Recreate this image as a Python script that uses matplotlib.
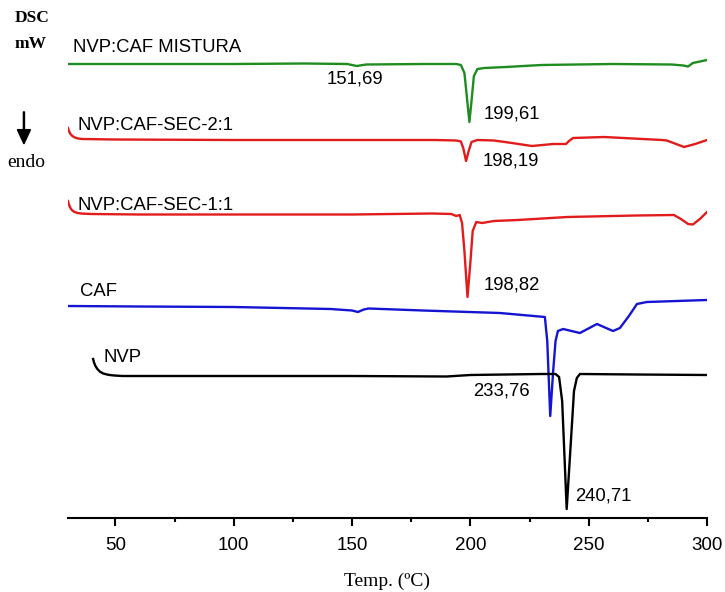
import matplotlib.pyplot as plt
from matplotlib.ticker import MultipleLocator

# DSC curves, temperature (C) vs heat flow (a.u., offset per sample)
mix_t = [30, 60, 100, 130, 148, 152, 156, 180, 194, 196, 197.5, 198.5, 199.6, 200.5, 201.5, 203, 206, 215, 230, 260, 285, 290, 292, 294, 300]
mix_v = [454, 454, 454, 454.5, 454, 452, 453.5, 454, 454, 453, 445, 422, 396, 417, 442, 449, 450, 451, 453, 454, 453.5, 452.5, 451.5, 455, 458]

sec21_t = [30, 30.4, 30.9, 31.6, 32.6, 34, 36, 50, 100, 150, 185, 194, 196, 197, 198.2, 199.3, 200.5, 203, 210, 217.6, 226, 235, 240.4, 241.7, 243.4, 256.5, 281, 283, 290.3, 295, 300]
sec21_v = [390, 387, 384.5, 382.5, 380.8, 379.6, 379, 378.5, 378, 378, 378, 377.5, 376.5, 370, 357, 367, 376, 378, 377.5, 375, 372, 374, 374, 377, 380, 381, 378, 377.5, 371, 374, 378]

sec11_t = [30, 30.4, 30.9, 31.6, 32.6, 34, 36, 40, 60, 100, 150, 184, 192, 194, 195.5, 196.5, 197.5, 198.8, 200, 201, 202.5, 205, 210, 220, 241, 270, 286, 289, 292, 294, 297, 300]
sec11_v = [317, 313.5, 310.5, 308, 306.2, 305, 304.4, 304, 303.5, 303.5, 303.5, 304.5, 304, 302, 303, 295, 267, 221, 255, 287, 296, 295, 297, 298, 301, 302.5, 303, 299, 294, 293.5, 299, 306]

caf_t = [30, 60, 100, 141, 150, 152.5, 155, 157, 180, 212.5, 231.5, 232.5, 233.76, 235, 236, 237, 239.2, 246.3, 253.5, 260.3, 263.2, 267, 270.4, 274.6, 300]
caf_v = [212, 211.5, 211, 209, 207.5, 206, 208.5, 209.5, 207.5, 205, 201, 177, 102, 147, 177, 187, 189, 185, 194, 187, 190, 202, 214, 216, 218]

nvp_t = [40.6, 41, 41.6, 42.4, 43.5, 45, 47, 49.5, 53.2, 100, 150, 190, 200, 230, 236, 237.5, 238.8, 240.71, 242.5, 243.8, 245, 246.3, 270, 300]
nvp_v = [159, 155.5, 152, 149, 146.3, 144.4, 143.2, 142.5, 142, 142, 142, 141.5, 143, 144, 144, 141, 117, 9, 77, 127, 140, 144, 143.5, 143]

sans = 'Liberation Sans'
serif = 'Liberation Serif'

fig = plt.figure(figsize=(7.25, 5.92), dpi=100)
ax = fig.add_axes([68 / 725, 74 / 592, 639 / 725, 518 / 592])

ax.plot(mix_t, mix_v, color='#1e8c1e', lw=1.7)
ax.plot(sec21_t, sec21_v, color='#e21b1b', lw=1.7)
ax.plot(sec11_t, sec11_v, color='#e21b1b', lw=1.7)
ax.plot(caf_t, caf_v, color='#1414d2', lw=1.7)
ax.plot(nvp_t, nvp_v, color='black', lw=1.7)

fs = 13.3
ax.text(32, 471, 'NVP:CAF MISTURA', family=sans, fontsize=fs, va='center')
ax.text(151.3, 439, '151,69', family=sans, fontsize=fs, ha='center', va='center')
ax.text(205.8, 404, '199,61', family=sans, fontsize=fs, va='center')
ax.text(34.2, 393, 'NVP:CAF-SEC-2:1', family=sans, fontsize=fs, va='center')
ax.text(205.3, 357, '198,19', family=sans, fontsize=fs, va='center')
ax.text(34.2, 312, 'NVP:CAF-SEC-1:1', family=sans, fontsize=fs, va='center')
ax.text(205.8, 233, '198,82', family=sans, fontsize=fs, va='center')
ax.text(35, 227, 'CAF', family=sans, fontsize=fs, va='center')
ax.text(45.2, 160, 'NVP', family=sans, fontsize=fs, va='center')
ax.text(225.2, 127, '233,76', family=sans, fontsize=fs, ha='right', va='center')
ax.text(244.2, 22, '240,71', family=sans, fontsize=fs, va='center')

ax.set_xlim(30, 300)
ax.set_ylim(0, 518)
for s in ['top', 'left', 'right']:
    ax.spines[s].set_visible(False)
ax.spines['bottom'].set_linewidth(1.5)
ax.set_yticks([])
ax.xaxis.set_major_locator(MultipleLocator(50))
ax.xaxis.set_minor_locator(MultipleLocator(25))
ax.tick_params(axis='x', which='major', direction='out', length=6, width=1.5, labelsize=13.5, pad=8)
ax.tick_params(axis='x', which='minor', direction='out', length=3, width=1.5)
for lab in ax.get_xticklabels():
    lab.set_family(sans)
ax.set_xlabel('Temp. (ºC)', family=serif, fontsize=14, labelpad=13)

fig.text(0.044, 0.970, 'DSC', family=serif, fontsize=12.5, weight='bold', ha='center', va='center')
fig.text(0.042, 0.925, 'mW', family=serif, fontsize=12.5, weight='bold', ha='center', va='center')
fig.text(0.036, 0.726, 'endo', family=serif, fontsize=14, ha='center', va='center')
fig.patches.append(plt.matplotlib.patches.FancyArrow(
    0.033, 0.811, 0, -0.054, width=0.0015, head_width=0.018, head_length=0.024,
    length_includes_head=True, color='black', transform=fig.transFigure))

fig.savefig('out.png', dpi=100)
